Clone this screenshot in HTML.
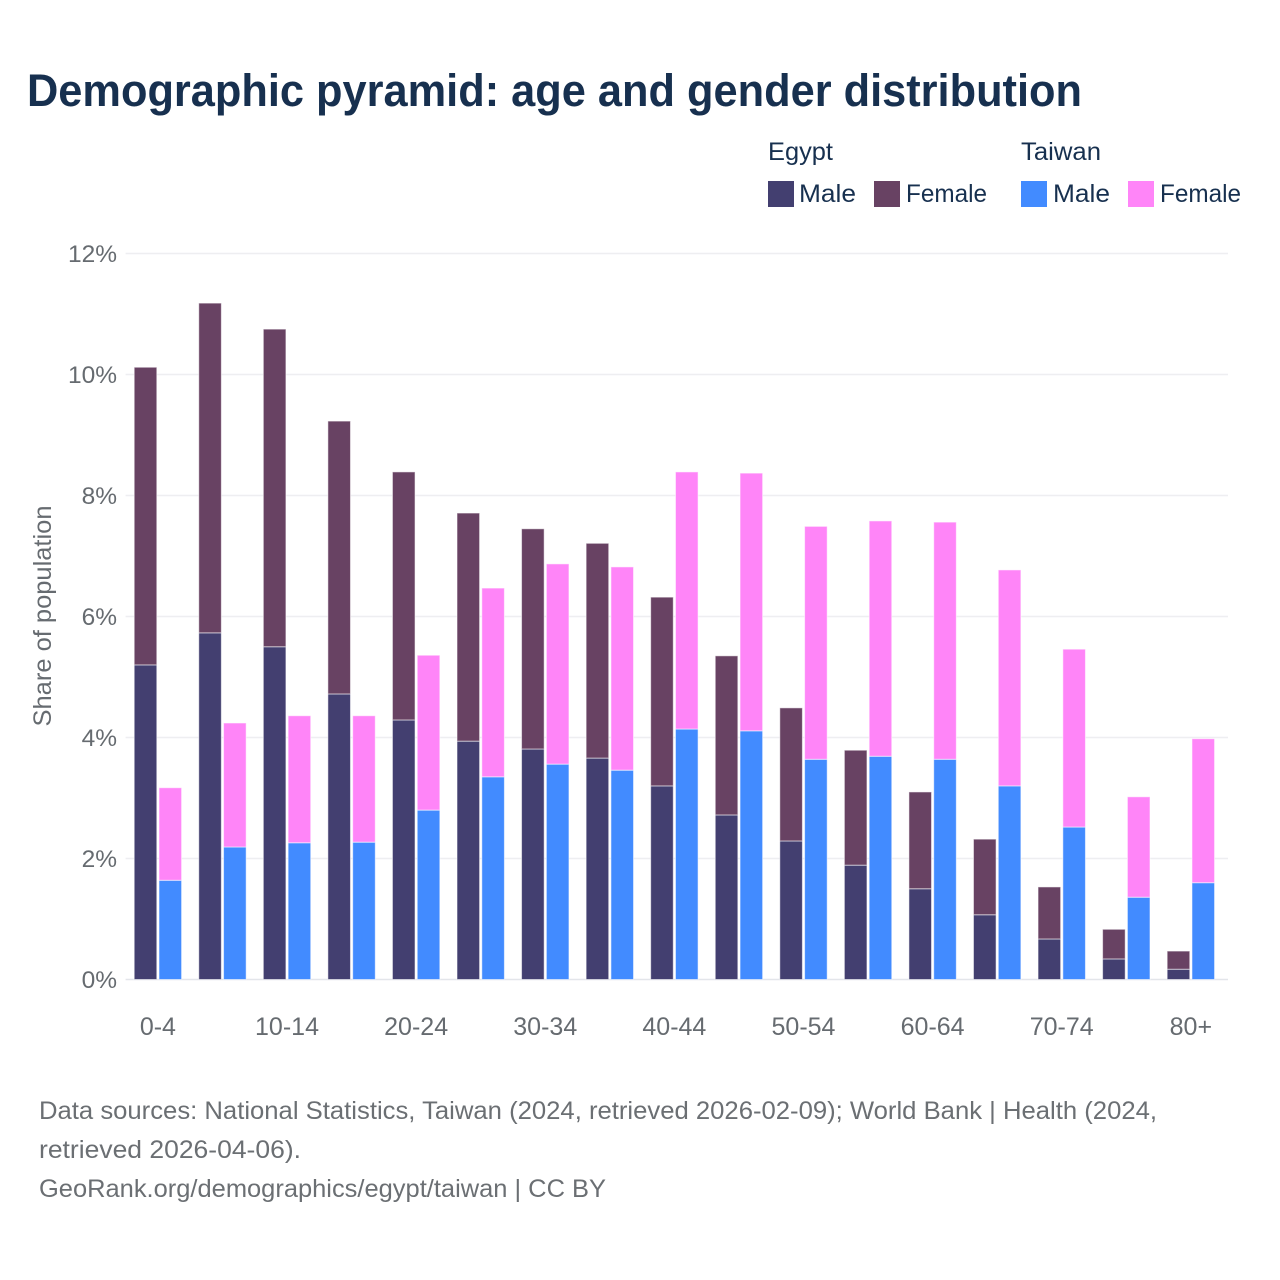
<!DOCTYPE html>
<html lang="en">
<head>
<meta charset="utf-8">
<title>Demographic pyramid: age and gender distribution</title>
<style>
html,body{margin:0;padding:0;background:#fff;width:1280px;height:1280px;overflow:hidden}
svg{display:block;font-family:"Liberation Sans",sans-serif}
</style>
</head>
<body>
<svg id="chart" xmlns="http://www.w3.org/2000/svg" width="1280" height="1280" viewBox="0 0 1280 1280">
  <text x="27" y="106" font-size="45" font-weight="700" fill="#17304f" textLength="1055" lengthAdjust="spacingAndGlyphs">Demographic pyramid: age and gender distribution</text>

  <g font-size="25" fill="#17304f">
    <text x="768" y="160" textLength="65" lengthAdjust="spacingAndGlyphs">Egypt</text>
    <text x="1021" y="160" textLength="80" lengthAdjust="spacingAndGlyphs">Taiwan</text>
    <rect x="768" y="181" width="26" height="26" fill="#433f70"/>
    <text x="799" y="202" textLength="57" lengthAdjust="spacingAndGlyphs">Male</text>
    <rect x="874" y="181" width="26" height="26" fill="#684263"/>
    <text x="906" y="202" textLength="81" lengthAdjust="spacingAndGlyphs">Female</text>
    <rect x="1021" y="181" width="26" height="26" fill="#428bff"/>
    <text x="1053" y="202" textLength="57" lengthAdjust="spacingAndGlyphs">Male</text>
    <rect x="1128" y="181" width="26" height="26" fill="#ff85f8"/>
    <text x="1160" y="202" textLength="81" lengthAdjust="spacingAndGlyphs">Female</text>
  </g>

  <g id="grid"></g>
  <g id="bars"></g>
  <g id="yticks"></g>
  <g id="xticks"></g>

  <text transform="translate(51,616) rotate(-90)" text-anchor="middle" font-size="25" fill="#666b70" textLength="221" lengthAdjust="spacingAndGlyphs">Share of population</text>

  <g font-size="25" fill="#6b6f73">
    <text x="39" y="1119" textLength="1118" lengthAdjust="spacingAndGlyphs">Data sources: National Statistics, Taiwan (2024, retrieved 2026-02-09); World Bank | Health (2024,</text>
    <text x="39" y="1158" textLength="262" lengthAdjust="spacingAndGlyphs">retrieved 2026-04-06).</text>
    <text x="39" y="1197" textLength="567" lengthAdjust="spacingAndGlyphs">GeoRank.org/demographics/egypt/taiwan | CC BY</text>
  </g>
</svg>
<script>
const categories = ["0-4","5-9","10-14","15-19","20-24","25-29","30-34","35-39","40-44","45-49","50-54","55-59","60-64","65-69","70-74","75-79","80+"];
const xTickLabels = ["0-4","10-14","20-24","30-34","40-44","50-54","60-64","70-74","80+"];
const yTicks = [0,2,4,6,8,10,12];
const egyptMale = [5.20,5.73,5.50,4.72,4.29,3.94,3.81,3.66,3.20,2.72,2.29,1.89,1.50,1.07,0.67,0.34,0.17];
const egyptFemale = [4.92,5.45,5.25,4.51,4.10,3.77,3.64,3.55,3.12,2.63,2.20,1.90,1.60,1.25,0.86,0.49,0.30];
const taiwanMale = [1.64,2.19,2.26,2.27,2.80,3.35,3.56,3.46,4.14,4.11,3.64,3.69,3.64,3.20,2.52,1.36,1.60];
const taiwanFemale = [1.53,2.05,2.10,2.09,2.56,3.12,3.31,3.36,4.25,4.26,3.85,3.89,3.92,3.57,2.94,1.66,2.38];

const NS = "http://www.w3.org/2000/svg";
const plot = {left:125.6, right:1228, top:253.5, bottom:979.5, yMax:12};
const step = 64.56;
const firstCenter = 157.9;
const barW = 22.6;
const gap = 2.2;
function yScale(v){ return plot.bottom - (v / plot.yMax) * (plot.bottom - plot.top); }
function xCenter(i){ return firstCenter + i * step; }
function mk(tag, attrs, parent){
  const el = document.createElementNS(NS, tag);
  for (const k in attrs) el.setAttribute(k, attrs[k]);
  parent.appendChild(el);
  return el;
}
const gridG = document.getElementById("grid");
const barsG = document.getElementById("bars");
const yG = document.getElementById("yticks");
const xG = document.getElementById("xticks");

yTicks.forEach(function(t){
  const line = mk("line",{x1:plot.left,x2:plot.right,y1:yScale(t),y2:yScale(t),stroke:t===0?"#e3e5ea":"#eeeef1","stroke-width":1.5},gridG);
  
  
  const label = mk("text",{x:117,y:yScale(t)+8.5,"text-anchor":"end","font-size":24.5,fill:"#666b70"},yG);
  
  
  label.textContent = t + "%";
});

function drawStack(i, x, male, female, maleColor, femaleColor){
  const y1 = yScale(male);
  const y2 = yScale(male + female);
  const m = mk("rect",{x:x,y:y1,width:barW,height:plot.bottom-y1,fill:maleColor,stroke:"#fff","stroke-opacity":0.55,"stroke-width":1},barsG);
  
  
  const f = mk("rect",{x:x,y:y2,width:barW,height:y1-y2,fill:femaleColor,stroke:"#fff","stroke-opacity":0.55,"stroke-width":1},barsG);
  
  
}
categories.forEach(function(c,i){
  const cx = xCenter(i);
  drawStack(i, cx - gap/2 - barW, egyptMale[i], egyptFemale[i], "#433f70", "#684263");
  drawStack(i, cx + gap/2, taiwanMale[i], taiwanFemale[i], "#428bff", "#ff85f8");
  if (xTickLabels.indexOf(c) !== -1) {
    const tl = mk("text",{x:cx,y:1035,"text-anchor":"middle","font-size":25,fill:"#666b70"},xG);
    
    
    tl.textContent = c;
  }
});
</script>
</body>
</html>
